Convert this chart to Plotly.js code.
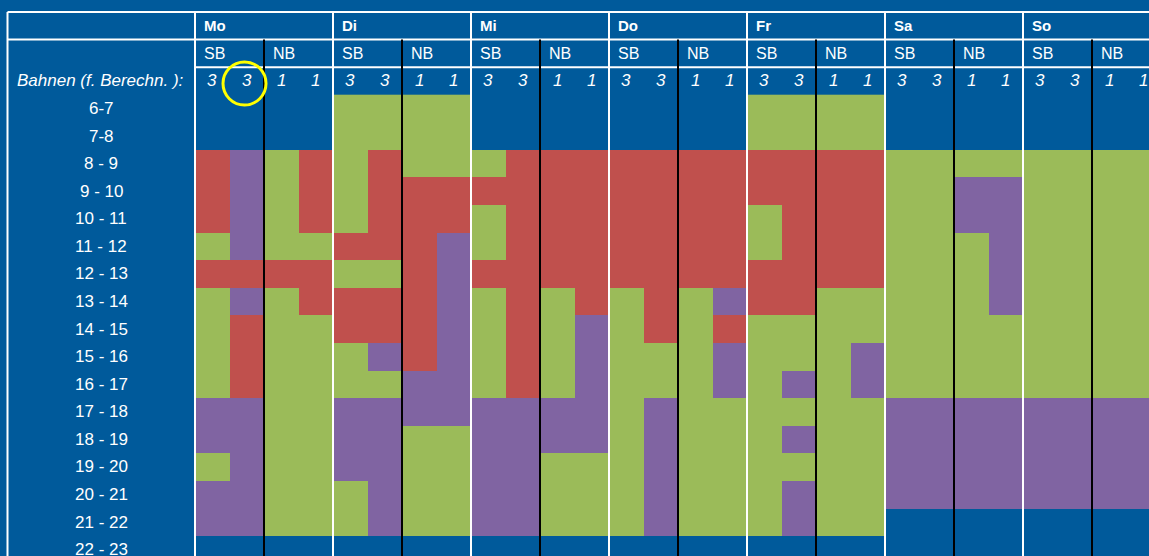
<!DOCTYPE html>
<html>
<head>
<meta charset="utf-8">
<script src="https://cdn.plot.ly/plotly-3.0.1.min.js"></script>
<style>
  html, body { margin: 0; padding: 0; background: #005A9B; }
  #chart { width: 1149px; height: 556px; }
</style>
</head>
<body>
<div id="chart"></div>
<script>
// Belegung je Stunde: 0 = frei (blau), 1 = gruen, 2 = rot, 3 = lila
var days = ['Mo', 'Di', 'Mi', 'Do', 'Fr', 'Sa', 'So'];
var sections = ['SB', 'NB'];
var lanes = ['3', '3', '1', '1'];
var hours = ['6-7', '7-8', '8 - 9', '9 - 10', '10 - 11', '11 - 12', '12 - 13', '13 - 14',
  '14 - 15', '15 - 16', '16 - 17', '17 - 18', '18 - 19', '19 - 20', '20 - 21', '21 - 22', '22 - 23'];

// je Tag: SB1, SB2, NB1, NB2 (von 6-7 bis 22-23)
var mo = [
  [0,0,2,2,2,1,2,1,1,1,1,3,3,1,3,3,0],
  [0,0,3,3,3,3,2,3,2,2,2,3,3,3,3,3,0],
  [0,0,1,1,1,1,2,1,1,1,1,1,1,1,1,1,0],
  [0,0,2,2,2,1,2,2,1,1,1,1,1,1,1,1,0]
];
var di = [
  [1,1,1,1,1,2,1,2,2,1,1,3,3,3,1,1,0],
  [1,1,2,2,2,2,1,2,2,3,1,3,3,3,3,3,0],
  [1,1,1,2,2,2,2,2,2,2,3,3,1,1,1,1,0],
  [1,1,1,2,2,3,3,3,3,3,3,3,1,1,1,1,0]
];
var mi = [
  [0,0,1,2,1,1,2,1,1,1,1,3,3,3,3,3,0],
  [0,0,2,2,2,2,2,2,2,2,2,3,3,3,3,3,0],
  [0,0,2,2,2,2,2,1,1,1,1,3,3,1,1,1,0],
  [0,0,2,2,2,2,2,2,3,3,3,3,3,1,1,1,0]
];
var don = [
  [0,0,2,2,2,2,2,1,1,1,1,1,1,1,1,1,0],
  [0,0,2,2,2,2,2,2,2,1,1,3,3,3,3,3,0],
  [0,0,2,2,2,2,2,1,1,1,1,1,1,1,1,1,0],
  [0,0,2,2,2,2,2,3,2,3,3,1,1,1,1,1,0]
];
var fr = [
  [1,1,2,2,1,1,2,2,1,1,1,1,1,1,1,1,0],
  [1,1,2,2,2,2,2,2,1,1,3,1,3,1,3,3,0],
  [1,1,2,2,2,2,2,1,1,1,1,1,1,1,1,1,0],
  [1,1,2,2,2,2,2,1,1,3,3,1,1,1,1,1,0]
];
var sa = [
  [0,0,1,1,1,1,1,1,1,1,1,3,3,3,3,0,0],
  [0,0,1,1,1,1,1,1,1,1,1,3,3,3,3,0,0],
  [0,0,1,3,3,1,1,1,1,1,1,3,3,3,3,0,0],
  [0,0,1,3,3,3,3,3,1,1,1,3,3,3,3,0,0]
];
var so = [
  [0,0,1,1,1,1,1,1,1,1,1,3,3,3,3,0,0],
  [0,0,1,1,1,1,1,1,1,1,1,3,3,3,3,0,0],
  [0,0,1,1,1,1,1,1,1,1,1,3,3,3,3,0,0],
  [0,0,1,1,1,1,1,1,1,1,1,3,3,3,3,0,0]
];
var week = [mo, di, mi, don, fr, sa, so];

var BLUE = '#005A9B', GREEN = '#9BBB59', RED = '#C0504D', PURPLE = '#8064A2';
var FONT = 'Liberation Sans, Arial, sans-serif';

// pixel -> Achsen-Einheiten
var colW = 34.5, rowH = 27.57, gridX = 195, gridY = 94.7;
function px(p) { return (p - gridX) / colW; }
function py(p) { return (p - gridY) / rowH; }

var xs = [], ys = [], z = [];
for (var c = 0; c < days.length * 4; c++) xs.push(c + 0.5);
for (var r = 0; r < hours.length; r++) {
  ys.push(r + 0.5);
  var row = [];
  week.forEach(function (d) { d.forEach(function (col) { row.push(col[r]); }); });
  z.push(row);
}

var heat = {
  type: 'heatmap', x: xs, y: ys, z: z,
  zmin: -0.5, zmax: 3.5, showscale: false, hoverinfo: 'skip',
  colorscale: [[0, BLUE], [0.25, BLUE], [0.25, GREEN], [0.5, GREEN],
               [0.5, RED], [0.75, RED], [0.75, PURPLE], [1, PURPLE]]
};

var shapes = [];
var ann = [];
var bottom = py(556), right = px(1149);
function line(x0, y0, x1, y1, color) {
  shapes.push({ type: 'line', xref: 'x', yref: 'y', x0: x0, y0: y0, x1: x1, y1: y1,
    line: { color: color, width: 2 } });
}
line(px(7.5), -3, right, -3, 'white');
line(px(7.5), -2, right, -2, 'white');
line(0, -1, right, -1, 'white');
line(px(7.5), -3, px(7.5), bottom, 'white');

days.forEach(function (d, i) {
  var x0 = i * 4;
  line(x0, -3, x0, bottom, 'white');
  line(x0 + 2, -2, x0 + 2, bottom, 'black');
  ann.push({ x: x0 + 0.2, y: -2.5, text: '<b>' + d + '</b>', xanchor: 'left',
    font: { size: 15 } });
  sections.forEach(function (s, k) {
    ann.push({ x: x0 + k * 2 + 0.2, y: -1.5, text: s, xanchor: 'left', font: { size: 16 } });
  });
  lanes.forEach(function (l, k) {
    ann.push({ x: x0 + k + 0.5, y: -0.5, text: '<i>' + l + '</i>', xanchor: 'center',
      font: { size: 17 } });
  });
});

ann.push({ x: px(100), y: -0.5, text: '<i>Bahnen (f. Berechn. ):</i>', xanchor: 'center',
  font: { size: 17 } });
hours.forEach(function (h, r) {
  ann.push({ x: px(101), y: r + 0.5, text: h, xanchor: 'center', font: { size: 17 } });
});
ann.forEach(function (a) {
  a.xref = 'x'; a.yref = 'y'; a.yanchor = 'middle'; a.showarrow = false;
  a.font.color = 'white'; a.font.family = FONT;
});

// gelber Kreis um die zweite SB-Bahn am Montag
shapes.push({ type: 'circle', xref: 'x', yref: 'y',
  x0: px(223), x1: px(266), y0: py(62), y1: py(105),
  line: { color: '#FFFF00', width: 3 } });

Plotly.newPlot('chart', [heat], {
  width: 1149, height: 556,
  margin: { l: 0, r: 0, t: 0, b: 0 },
  paper_bgcolor: BLUE, plot_bgcolor: BLUE,
  xaxis: { range: [px(0), right], visible: false, fixedrange: true },
  yaxis: { range: [bottom, py(0)], visible: false, fixedrange: true },
  shapes: shapes,
  annotations: ann,
  showlegend: false
}, { displayModeBar: false, staticPlot: true });
</script>
</body>
</html>
